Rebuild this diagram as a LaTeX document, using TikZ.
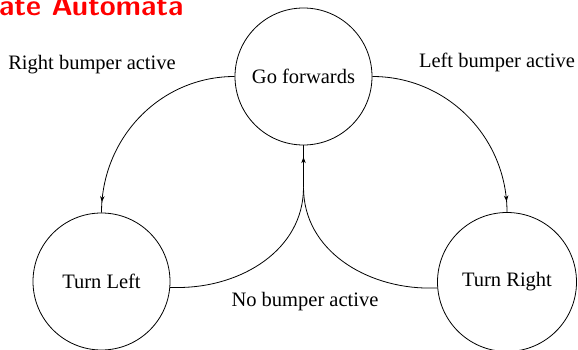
\documentclass[tikz,border=0pt]{standalone}
\usepackage{fontspec}
\setmainfont{Liberation Serif}
\usepackage{tikz}
\usetikzlibrary{arrows.meta}
\usetikzlibrary{calc,positioning}
\usetikzlibrary{decorations.markings}

\begin{document}
\begin{tikzpicture}[x=1pt, y=1pt,
    state/.style={circle, draw=black, line width=0.8pt, minimum size=137pt, inner sep=0pt,
    text centered, font=\fontsize{20.5}{22}\selectfont},
    edgetext/.style={inner sep=0pt, anchor=base, font=\fontsize{20.5}{22}\selectfont},
    trans/.style={draw, line width=0.8pt, postaction={decorate},
    decoration={markings, mark=at position #1 with {\arrow{Stealth[length=6pt, width=4.5pt]}}}}]
    \useasboundingbox (0,0) rectangle (578,350);

    \node (title) [anchor=base west, inner sep=0pt, text=red, font=\fontsize{29}{30}\sffamily\bfseries] at (-1,334.5) {ate Automata};

    \node (forwards) [state] at (303.5,273.5) {Go forwards};
    \node (turnleft) [state] at (101.5,68.5) {Turn Left};
    \node (turnright) [state, minimum size=139pt] at (507,68) {Turn Right};

    \node (rightbump) [edgetext] at (92,280) {Right bumper active};
    \node (leftbump) [edgetext] at (497,282) {Left bumper active};
    \node (nobump) [edgetext] at (305,43) {No bumper active};

    \coordinate (merge) at ($(forwards.south)+(0,-42)$);

    \draw [trans=0.95] (forwards.west) to[out=180, in=90] (turnleft.north);
    \draw [trans=0.95] (forwards.east) to[out=0, in=90] (turnright.north);
    \draw [line width=0.8pt] (turnleft.-5) -- ++(8,0) to[out=0, in=-90] (merge);
    \draw [line width=0.8pt] (turnright.185) -- ++(-8,0) to[out=180, in=-90] (merge);
    \draw [trans=0.72] (merge) -- (forwards.south);
\end{tikzpicture}
\end{document}
